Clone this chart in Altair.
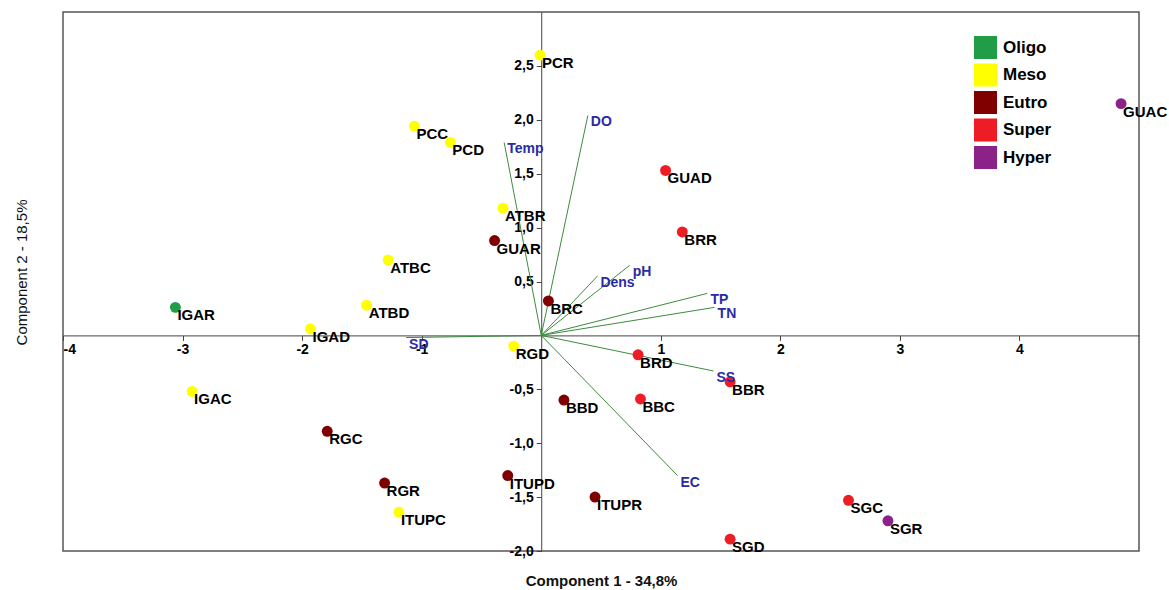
import altair as alt
import pandas as pd

# Sampling sites: PCA scores on the first two components and trophic status
sites = ["PCR", "PCC", "PCD", "ATBR", "GUAR", "ATBC", "ATBD", "IGAR", "IGAD",
         "IGAC", "RGC", "RGR", "ITUPC", "ITUPD", "ITUPR", "RGD", "BRC", "BBD",
         "BRD", "BBC", "BBR", "GUAD", "BRR", "GUAC", "SGC", "SGR", "SGD"]
comp1 = [-0.01, -1.06, -0.76, -0.32, -0.39, -1.28, -1.46, -3.06, -1.93,
         -2.92, -1.79, -1.31, -1.19, -0.28, 0.45, -0.23, 0.06, 0.19,
         0.81, 0.83, 1.58, 1.04, 1.18, 4.85, 2.57, 2.90, 1.58]
comp2 = [2.60, 1.94, 1.79, 1.18, 0.88, 0.70, 0.28, 0.26, 0.06,
         -0.52, -0.89, -1.37, -1.64, -1.30, -1.50, -0.10, 0.32, -0.60,
         -0.18, -0.59, -0.43, 1.53, 0.96, 2.15, -1.53, -1.72, -1.89]
status = ["Meso", "Meso", "Meso", "Meso", "Eutro", "Meso", "Meso", "Oligo", "Meso",
          "Meso", "Eutro", "Eutro", "Meso", "Eutro", "Eutro", "Meso", "Eutro", "Eutro",
          "Super", "Super", "Super", "Super", "Super", "Hyper", "Super", "Hyper", "Super"]

# Variable loadings (biplot arrows)
variables = ["DO", "Temp", "pH", "Dens", "TP", "TN", "SS", "EC", "SD"]
load1 = [0.39, -0.31, 0.74, 0.47, 1.39, 1.45, 1.44, 1.14, -1.13]
load2 = [2.04, 1.79, 0.65, 0.55, 0.39, 0.26, -0.33, -1.30, -0.02]

classes = ["Oligo", "Meso", "Eutro", "Super", "Hyper"]
class_colors = ["#1f9e45", "#ffff00", "#800000", "#ee1c24", "#8a2288"]

x_ticks = [-4, -3, -2, -1, 1, 2, 3, 4]
y_ticks = [-2.0, -1.5, -1.0, -0.5, 0.5, 1.0, 1.5, 2.0, 2.5]
x_domain = [-4, 5]
y_domain = [-2, 3]

W, H = 1076, 539
x_off = -(0 - y_domain[0]) / (y_domain[1] - y_domain[0]) * H
y_off = -(0 - x_domain[0]) / (x_domain[1] - x_domain[0]) * W

scores = pd.DataFrame({"site": sites, "c1": comp1, "c2": comp2, "status": status})
loads = pd.DataFrame({"var": variables, "c1": load1, "c2": load2,
                      "o1": [0.0] * len(variables), "o2": [0.0] * len(variables)})

FONT = "Liberation Sans"

x_scale = alt.Scale(domain=x_domain, nice=False, zero=False)
y_scale = alt.Scale(domain=y_domain, nice=False, zero=False)

x_axis = alt.Axis(
    values=x_ticks, offset=x_off, grid=False,
    labelExpr="replace(format(datum.value, 'd'), '\u2212', '-')",
    labelFontWeight="bold", labelFontSize=14, labelColor="black", labelFont=FONT,
    domainColor="#444444", tickColor="#444444", tickSize=5, labelPadding=2,
    title="Component 1 - 34,8%", titleFont=FONT, titleFontSize=15,
    titleFontWeight="bold", titleColor="#111111",
    titleY=H - (H + x_off) + 29, titleBaseline="middle",
)
y_axis = alt.Axis(
    values=y_ticks, offset=y_off, grid=False,
    labelExpr="replace(replace(format(datum.value, '.1f'), '.', ','), '\u2212', '-')",
    labelFontWeight="bold", labelFontSize=14, labelColor="black", labelFont=FONT,
    domainColor="#444444", tickColor="#444444", tickSize=5, labelPadding=3,
    title="Component 2 - 18,5%", titleFont=FONT, titleFontSize=15,
    titleFontWeight="normal", titleColor="#111111",
    titleX=-42 + y_off, titleY=260, titleBaseline="middle", titleAngle=-90,
)

arrows = alt.Chart(loads).mark_rule(color="#3d8b3d", strokeWidth=1).encode(
    x=alt.X("o1:Q", scale=x_scale, axis=x_axis),
    y=alt.Y("o2:Q", scale=y_scale, axis=y_axis),
    x2="c1:Q",
    y2="c2:Q",
)

points = alt.Chart(scores).mark_circle(size=120, opacity=1).encode(
    x=alt.X("c1:Q", scale=x_scale),
    y=alt.Y("c2:Q", scale=y_scale),
    color=alt.Color(
        "status:N",
        scale=alt.Scale(domain=classes, range=class_colors),
        sort=classes,
        legend=alt.Legend(
            title=None, orient="none", legendX=911, legendY=24,
            symbolType="square", symbolSize=529, symbolStrokeWidth=0,
            symbolOpacity=1, labelFont=FONT, labelFontSize=17,
            labelFontWeight="bold", labelColor="black", labelOffset=6,
            rowPadding=4.5, padding=0,
        ),
    ),
)

site_labels = alt.Chart(scores).mark_text(
    align="left", baseline="middle", dx=2, dy=8,
    font=FONT, fontSize=15, fontWeight="bold", color="black",
).encode(
    x=alt.X("c1:Q", scale=x_scale),
    y=alt.Y("c2:Q", scale=y_scale),
    text="site:N",
)

var_labels = alt.Chart(loads).mark_text(
    align="left", baseline="middle", dx=3, dy=7,
    font=FONT, fontSize=14, fontWeight="bold", color="#2a2aa5",
).encode(
    x=alt.X("c1:Q", scale=x_scale),
    y=alt.Y("c2:Q", scale=y_scale),
    text="var:N",
)

chart = alt.layer(arrows, points, site_labels, var_labels).properties(
    width=W, height=H,
    autosize=alt.AutoSizeParams(type="none"),
    padding={"left": 63, "top": 12, "right": 30, "bottom": 39},
    background="white",
).configure_view(
    stroke="#555555", strokeWidth=1.5,
)

chart.save("out.html", embed_options={"renderer": "svg", "actions": False})
